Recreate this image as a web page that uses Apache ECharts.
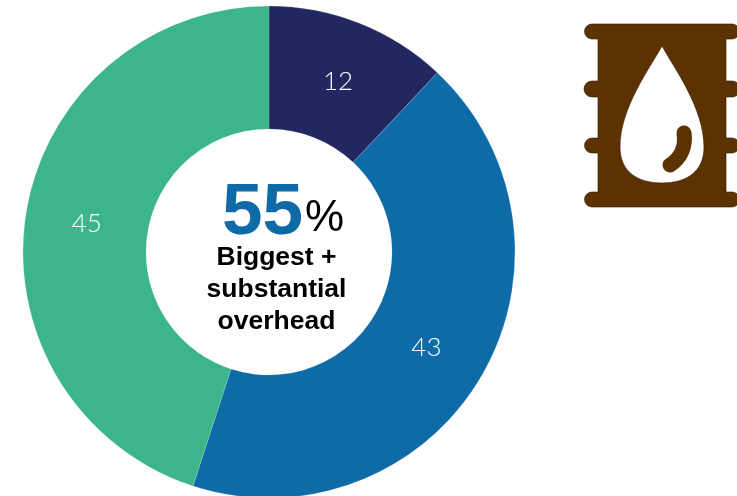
<!DOCTYPE html>
<html>
<head>
<meta charset="utf-8">
<style>html,body{margin:0;padding:0;background:#fff;overflow:hidden}#chart{width:737px;height:496px}</style>
<script src="https://cdn.jsdelivr.net/npm/echarts@6/dist/echarts.min.js"></script>
</head>
<body>
<div id="chart"></div>
<script>
// Share of responses per segment, clockwise from twelve o'clock
const segmentNames = ['Navy', 'Blue', 'Green'];
const segmentValues = [12, 43, 45];
const segmentColors = ['#22285f', '#0f6ba8', '#3cb58a'];
const headlineNumber = '55';
const headlineUnit = '%';
const captionLines = ['Biggest +', 'substantial', 'overhead'];

// Oil barrel outline; the droplet subpath winds the opposite way so it stays open
const barrelPath =
  'M592 24H732A7.5 7.5 0 0 1 732 39H726V81H732A8 8 0 0 1 732 97H726V138H732A7.5 7.5 0 0 1 732 153H726V192H732A7.5 7.5 0 0 1 732 207H592A7.5 7.5 0 0 1 592 192H598V153H592A7.5 7.5 0 0 1 592 138H598V97H592A8 8 0 0 1 592 81H598V39H592A7.5 7.5 0 0 1 592 24Z' +
  'M662 46C650 68 620 108 620 147C620 172 638 183 662 183C686 183 704 172 704 147C704 108 674 68 662 46Z';
const dropletStroke = 'M684 133C686 146 681 158 670 165';

echarts.graphic.registerShape('barrelIcon', echarts.graphic.extendPath(barrelPath, {}));
echarts.graphic.registerShape('dropletGlint', echarts.graphic.extendPath(dropletStroke, {}));

// Small nudges that keep each value label clear of the ring's midline
const labelOffsets = [[0, 4], [-4, 0], [3, 1]];

const chart = echarts.init(document.getElementById('chart'), null, { renderer: 'canvas' });
chart.setOption({
  animation: false,
  series: [{
    type: 'pie',
    center: [269, 252],
    radius: [123, 246],
    startAngle: 90,
    clockwise: true,
    silent: true,
    itemStyle: { borderColor: 'rgba(255,255,255,0.5)', borderWidth: 0.3 },
    label: {
      show: true,
      position: 'inside',
      formatter: '{c}',
      color: '#ffffff',
      fontFamily: 'Lato',
      fontWeight: 300,
      fontSize: 26
    },
    labelLine: { show: false },
    data: segmentValues.map((value, i) => ({
      name: segmentNames[i],
      value,
      itemStyle: { color: segmentColors[i] },
      label: { offset: labelOffsets[i] }
    }))
  }],
  graphic: [
    {
      type: 'barrelIcon',
      silent: true,
      style: { fill: '#5c3200', stroke: '#2e1a00', lineWidth: 0.6 }
    },
    {
      type: 'dropletGlint',
      silent: true,
      style: { fill: 'none', stroke: '#5c3200', lineWidth: 15, lineCap: 'round' }
    },
    {
      type: 'text', silent: true, x: 222, y: 214, style: {
        text: headlineNumber, fill: '#0f6ba8', fontFamily: 'Liberation Sans',
        fontWeight: 'bold', fontSize: 73, verticalAlign: 'middle'
      }
    },
    {
      type: 'text', silent: true, x: 305, y: 219, style: {
        text: headlineUnit, fill: '#000000', fontFamily: 'Liberation Sans',
        fontSize: 44, verticalAlign: 'middle'
      }
    },
    {
      type: 'text', silent: true, x: 276.5, y: 290, style: {
        text: captionLines.join('\n'), fill: '#000000', fontFamily: 'Liberation Sans',
        fontWeight: 'bold', fontSize: 26.5, lineHeight: 32, align: 'center', verticalAlign: 'middle'
      }
    }
  ]
});
</script>
</body>
</html>
